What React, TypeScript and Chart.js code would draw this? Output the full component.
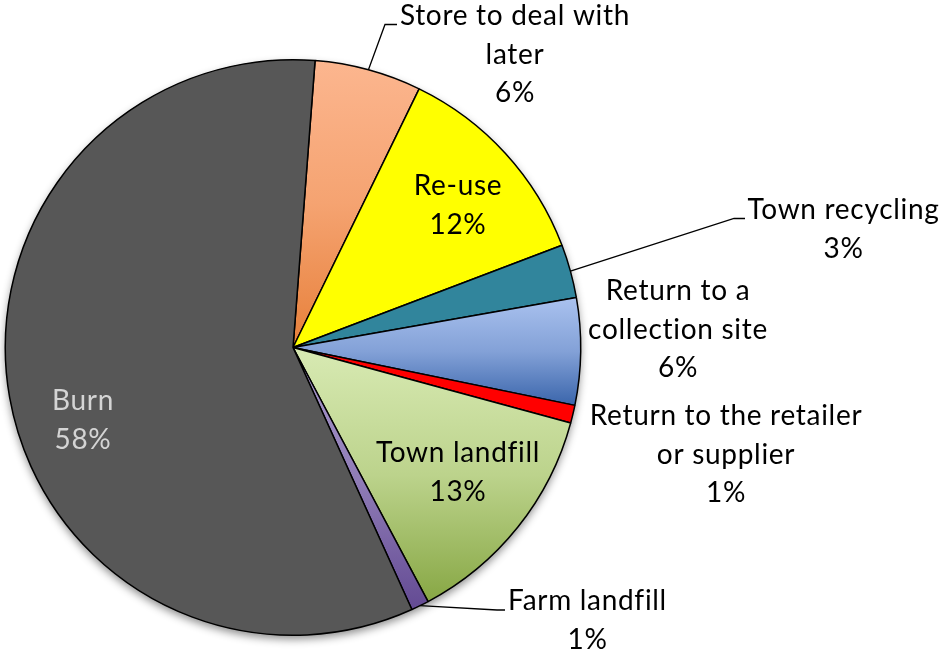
import React, { useEffect, useRef } from "react";
import { Chart, registerables } from "chart.js";

Chart.register(...registerables);

// ---- data ----
const categories = [
  "Store to deal with later",
  "Re-use",
  "Town recycling",
  "Return to a collection site",
  "Return to the retailer or supplier",
  "Town landfill",
  "Farm landfill",
  "Burn",
];
const values = [6, 12, 3, 6, 1, 13, 1, 58];
const nameLines = [
  ["Store to deal with", "later"],
  ["Re-use"],
  ["Town recycling"],
  ["Return to a", "collection site"],
  ["Return to the retailer", "or supplier"],
  ["Town landfill"],
  ["Farm landfill"],
  ["Burn"],
];

// ---- styles ----
const topColors = ["#FCB68F", "#FFFF00", "#31859C", "#AAC2EF", "#FF0000", "#D8EAB3", "#A898CB", "#575757"];
const bottomColors = ["#E7803A", "#FFFF00", "#31859C", "#3A65AB", "#FF0000", "#87A744", "#634A93", "#575757"];
const textColors = ["#000", "#000", "#000", "#000", "#000", "#000", "#000", "#D4D4D4"];
const ROTATION = 4.4;
const FONT_SIZE = 28;
const LETTER_SPACING = "0.7px";
const LINE_HEIGHT = 38.5;

// label layout: text centre x, first baseline y; optional leader elbow & end
const labelLayout = [
  { x: 515, y: 25, leader: [[385, 24.5], [397, 24.5]] },
  { x: 458, y: 195 },
  { x: 843.5, y: 219, leader: [[734, 218.5], [745, 218.5]] },
  { x: 678, y: 300 },
  { x: 726, y: 425 },
  { x: 458, y: 462 },
  { x: 587.5, y: 610, leader: [[497, 610], [505, 610]] },
  { x: 83, y: 410 },
];

function mix(a: string, b: string, t: number) {
  const pa = [1, 3, 5].map((i) => parseInt(a.slice(i, i + 2), 16));
  const pb = [1, 3, 5].map((i) => parseInt(b.slice(i, i + 2), 16));
  const p = pa.map((v, i) => Math.round(v + (pb[i] - v) * t));
  return `rgb(${p[0]},${p[1]},${p[2]})`;
}

function sliceGradient(context: any) {
  const chart = context.chart;
  const i = context.dataIndex;
  const area = chart.chartArea;
  if (!area || i === undefined) return topColors[i ?? 0];
  if (topColors[i] === bottomColors[i]) return topColors[i];
  const cx = (area.left + area.right) / 2;
  const cy = (area.top + area.bottom) / 2;
  const r = Math.min(area.right - area.left, area.bottom - area.top) / 2;
  const total = values.reduce((s, v) => s + v, 0);
  let before = 0;
  for (let k = 0; k < i; k++) before += values[k];
  const a0 = ((ROTATION - 90) * Math.PI) / 180 + (before / total) * Math.PI * 2;
  const a1 = a0 + (values[i] / total) * Math.PI * 2;
  const ys = [cy, cy + r * Math.sin(a0), cy + r * Math.sin(a1)];
  const within = (ang: number) => {
    let t = ang;
    while (t < a0) t += Math.PI * 2;
    return t <= a1;
  };
  if (within(-Math.PI / 2)) ys.push(cy - r);
  if (within(Math.PI / 2)) ys.push(cy + r);
  const y0 = Math.min(...ys);
  const y1 = Math.max(...ys);
  const g = chart.ctx.createLinearGradient(0, y0, 0, y1);
  g.addColorStop(0, topColors[i]);
  g.addColorStop(0.5, mix(topColors[i], bottomColors[i], 0.35));
  g.addColorStop(1, bottomColors[i]);
  return g;
}

const shadowPlugin = {
  id: "pieShadow",
  beforeDatasetsDraw(chart: any) {
    const arc = chart.getDatasetMeta(0).data[0];
    if (!arc) return;
    const { x, y, outerRadius } = arc.getProps(["x", "y", "outerRadius"], true);
    const c = chart.ctx;
    c.save();
    c.shadowColor = "rgba(0,0,0,0.45)";
    c.shadowBlur = 9;
    c.shadowOffsetX = 0;
    c.shadowOffsetY = 4;
    c.beginPath();
    c.arc(x, y, outerRadius, 0, Math.PI * 2);
    c.fillStyle = "#575757";
    c.fill();
    c.restore();
  },
};

const labelPlugin = {
  id: "pieLabels",
  afterDatasetsDraw(chart: any) {
    const meta = chart.getDatasetMeta(0);
    const c = chart.ctx;
    const total = values.reduce((s, v) => s + v, 0);
    c.save();
    meta.data.forEach((arc: any, i: number) => {
      const { x, y, startAngle, endAngle, outerRadius } = arc.getProps(
        ["x", "y", "startAngle", "endAngle", "outerRadius"],
        true
      );
      const lay = labelLayout[i];
      if (lay.leader) {
        const mid = (startAngle + endAngle) / 2;
        c.beginPath();
        c.moveTo(x + outerRadius * Math.cos(mid), y + outerRadius * Math.sin(mid));
        lay.leader.forEach((p) => c.lineTo(p[0], p[1]));
        c.strokeStyle = "#000";
        c.lineWidth = 1.3;
        c.stroke();
      }
      const lines = [...nameLines[i], `${Math.round((values[i] / total) * 100)}%`];
      c.font = `${FONT_SIZE}px Lato, "Open Sans", sans-serif`;
      (c as any).letterSpacing = LETTER_SPACING;
      c.fillStyle = textColors[i];
      c.textAlign = "center";
      c.textBaseline = "alphabetic";
      lines.forEach((ln, k) => c.fillText(ln, lay.x, lay.y + k * LINE_HEIGHT));
    });
    c.restore();
  },
};

export default function App() {
  const ref = useRef<HTMLCanvasElement | null>(null);
  useEffect(() => {
    if (!ref.current) return;
    const chart = new Chart(ref.current, {
      type: "pie",
      data: {
        labels: categories,
        datasets: [
          {
            data: values,
            backgroundColor: sliceGradient as any,
            borderColor: "#000",
            borderWidth: 1.5,
          },
        ],
      },
      options: {
        animation: false,
        responsive: false,
        rotation: ROTATION,
        layout: { padding: { left: 4.5, top: 59, right: 359.5, bottom: 17 } },
        plugins: {
          legend: { display: false },
          tooltip: { enabled: false },
        },
        events: [],
      },
      plugins: [shadowPlugin, labelPlugin],
    });
    return () => chart.destroy();
  }, []);
  return (
    <div style={{ position: "absolute", left: 0, top: 0, width: 941, height: 653, background: "#fff" }}>
      <canvas ref={ref} width={941} height={653} />
    </div>
  );
}
